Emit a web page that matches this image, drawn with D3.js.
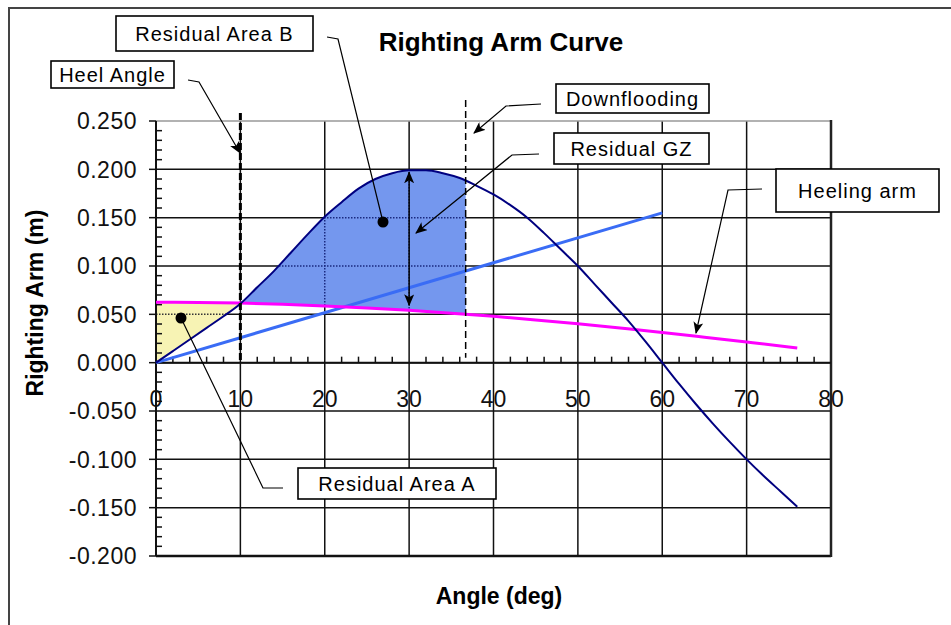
<!DOCTYPE html>
<html><head><meta charset="utf-8">
<script src="https://cdn.jsdelivr.net/npm/d3@7"></script>
<style>
html,body{margin:0;padding:0;background:#fff;}
svg{display:block;font-family:Arial,"Liberation Sans",sans-serif;}
</style></head><body>
<svg id="c" width="951" height="625"></svg>
<script>
// ---- data ----
const gzAngles = [0,2,4,6,8,10,12,14,16,18,20,22,24,26,28,30,32,34,36,38,40,42,44,46,48,50,52,54,56,58,60,62,64,66,68,70,72,74,76];
const gzValues = [0,0.012,0.024,0.036,0.048,0.061,0.078,0.095,0.114,0.133,0.151,0.166,0.180,0.190,0.196,0.199,0.199,0.196,0.191,0.183,0.174,0.163,0.150,0.134,0.117,0.100,0.081,0.062,0.043,0.022,0.000,-0.022,-0.043,-0.063,-0.082,-0.100,-0.117,-0.133,-0.149];
const heelingAngles = [0,5,10,15,20,25,30,35,40,45,50,55,60,65,70,75,76];
const heelingArm = [0.0625,0.0623,0.0616,0.0604,0.0587,0.0566,0.0541,0.0512,0.0479,0.0442,0.0402,0.0358,0.0313,0.0264,0.0214,0.0162,0.0151];
const gmAngles = [0,60];
const gmValues = [0,0.155];
const heelAngle = 10;
const downfloodingAngle = 36.7;
const xTicks = [0,10,20,30,40,50,60,70,80];
const yTicks = [-0.2,-0.15,-0.1,-0.05,0,0.05,0.1,0.15,0.2,0.25];
const title = "Righting Arm Curve";
const xTitle = "Angle (deg)";
const yTitle = "Righting Arm (m)";

// ---- setup ----
const svg = d3.select("#c");
const x = d3.scaleLinear().domain([0,80]).range([156,831]);
const y = d3.scaleLinear().domain([-0.2,0.25]).range([556,121]);
const gz = gzAngles.map((a,i)=>({a, v:gzValues[i]}));
const heel = heelingAngles.map((a,i)=>({a, v:heelingArm[i]}));
const gm = gmAngles.map((a,i)=>({a, v:gmValues[i]}));
const interp = (arr, a) => {
  for (let i=0;i<arr.length-1;i++){
    if (a>=arr[i].a && a<=arr[i+1].a){
      const t=(a-arr[i].a)/(arr[i+1].a-arr[i].a);
      return arr[i].v+t*(arr[i+1].v-arr[i].v);
    }
  }
  return arr[arr.length-1].v;
};
const slice = (arr,a0,a1)=>{
  const pts=[{a:a0,v:interp(arr,a0)}];
  arr.forEach(d=>{ if(d.a>a0 && d.a<a1) pts.push(d); });
  pts.push({a:a1,v:interp(arr,a1)});
  return pts;
};
const line = d3.line().x(d=>x(d.a)).y(d=>y(d.v));
const smooth = d3.line().x(d=>x(d.a)).y(d=>y(d.v)).curve(d3.curveMonotoneX);

const defs = svg.append("defs");
function marker(id){
  defs.append("marker").attr("id",id).attr("viewBox","0 0 12 10")
    .attr("refX",11).attr("refY",5).attr("markerWidth",12).attr("markerHeight",10)
    .attr("markerUnits","userSpaceOnUse").attr("orient","auto-start-reverse")
    .append("path").attr("d","M0,0 L12,5 L0,10 L3,5 Z").attr("fill","#000");
}
marker("arr");

// outer frame
svg.append("rect").attr("x",9).attr("y",8).attr("width",1000).attr("height",700)
  .attr("fill","none").attr("stroke","#444").attr("stroke-width",2);

// areas
const areaA = slice(heel,0,heelAngle).concat(slice(gz,0,heelAngle).reverse());
const areaB = slice(gz,heelAngle,downfloodingAngle).concat(slice(heel,heelAngle,downfloodingAngle).reverse());
const poly = pts => "M" + pts.map(d=>x(d.a)+","+y(d.v)).join("L") + "Z";
defs.append("clipPath").attr("id","clipA").append("path").attr("d",poly(areaA));
defs.append("clipPath").attr("id","clipB").append("path").attr("d",poly(areaB));

// gridlines
const grid = svg.append("g");
xTicks.filter(t=>t>0 && t<80).forEach(t=>{
  grid.append("line").attr("x1",x(t)).attr("x2",x(t)).attr("y1",y(0.25)).attr("y2",y(-0.2))
    .attr("stroke","#111").attr("stroke-width",1.5);
});
yTicks.filter(t=>t<0.25).forEach(t=>{
  grid.append("line").attr("x1",x(0)).attr("x2",x(80)).attr("y1",y(t)).attr("y2",y(t))
    .attr("stroke","#111").attr("stroke-width", t===-0.2?2.5:1.5);
});
grid.append("line").attr("x1",x(0)).attr("x2",x(80)).attr("y1",y(0.25)).attr("y2",y(0.25))
  .attr("stroke","#999").attr("stroke-width",1.5);
grid.append("line").attr("x1",x(80)).attr("x2",x(80)).attr("y1",y(0.25)-1).attr("y2",y(-0.2)+1)
  .attr("stroke","#222").attr("stroke-width",2.5);

// area fills
svg.append("path").attr("d",poly(areaA)).attr("fill","#f7f3b4");
svg.append("path").attr("d",poly(areaB)).attr("fill","#7497ee");
// dotted grid within areas
[["clipA","#333"],["clipB","#1a2a80"]].forEach(([cid,col])=>{
  const g = svg.append("g").attr("clip-path",`url(#${cid})`);
  xTicks.forEach(t=>{
    g.append("line").attr("x1",x(t)).attr("x2",x(t)).attr("y1",y(0.25)).attr("y2",y(-0.2))
      .attr("stroke",col).attr("stroke-width",1.5).attr("stroke-dasharray","1.5,1.5");
  });
  yTicks.forEach(t=>{
    g.append("line").attr("x1",x(0)).attr("x2",x(80)).attr("y1",y(t)).attr("y2",y(t))
      .attr("stroke",col).attr("stroke-width",1.5).attr("stroke-dasharray","1.5,1.5");
  });
});

// axes
const ax = svg.append("g").attr("stroke","#111").attr("stroke-width",1.5);
ax.append("line").attr("x1",x(0)).attr("x2",x(0)).attr("y1",y(0.25)).attr("y2",y(-0.2)).attr("stroke-width",2);
yTicks.forEach(t=>{
  ax.append("line").attr("x1",x(0)-7).attr("x2",x(0)).attr("y1",y(t)).attr("y2",y(t));
});
d3.range(-20,26).forEach(i=>{
  if (i%5!==0) ax.append("line").attr("x1",x(0)).attr("x2",x(0)+6).attr("y1",y(i/100)).attr("y2",y(i/100));
});
ax.append("line").attr("x1",x(0)).attr("x2",x(80)).attr("y1",y(0)).attr("y2",y(0)).attr("stroke-width",2);
d3.range(2,80,2).forEach(a=>{
  if (a%10!==0) ax.append("line").attr("x1",x(a)).attr("x2",x(a)).attr("y1",y(0)).attr("y2",y(0)-6);
});

// series lines
svg.append("path").attr("d",line(gm)).attr("fill","none").attr("stroke","#3a6cf5").attr("stroke-width",3);
svg.append("path").attr("d",smooth(heel)).attr("fill","none").attr("stroke","#ff00ff").attr("stroke-width",3);
svg.append("path").attr("d",smooth(gz)).attr("fill","none").attr("stroke","#000080").attr("stroke-width",2);

// vertical reference lines
svg.append("line").attr("x1",x(heelAngle)).attr("x2",x(heelAngle)).attr("y1",113).attr("y2",y(0))
  .attr("stroke","#000").attr("stroke-width",3).attr("stroke-dasharray","7,3");
svg.append("line").attr("x1",x(downfloodingAngle)).attr("x2",x(downfloodingAngle)).attr("y1",100).attr("y2",y(0)-5)
  .attr("stroke","#000").attr("stroke-width",1.5).attr("stroke-dasharray","7,4");

// residual GZ double arrow at 30 deg
svg.append("line").attr("x1",x(30)).attr("x2",x(30))
  .attr("y1",y(interp(gz,30))+2).attr("y2",y(interp(heel,30))-5)
  .attr("stroke","#000").attr("stroke-width",1.5)
  .attr("marker-start","url(#arr)").attr("marker-end","url(#arr)");

// annotations
const notes = [
  {text:"Residual Area B", box:[116,16,197,35], path:[[327,37],[338,39],[383,222]], end:"dot"},
  {text:"Heel Angle", box:[51,61,123,27], path:[[188,80],[199,82],[240,153]], end:"arrow"},
  {text:"Downflooding", box:[556,84,153,29], path:[[541,104],[506,106],[474,133]], end:"arrow"},
  {text:"Residual GZ", box:[554,133,155,31], path:[[539,154],[512,155],[416,233]], end:"arrow"},
  {text:"Heeling arm", box:[776,169,163,43], path:[[762,189],[728,190],[696,333]], end:"arrow"},
  {text:"Residual Area A", box:[298,468,198,31], path:[[283,488],[263,488],[181,318]], end:"dot"}
];
notes.forEach(n=>{
  const p = svg.append("path").attr("d","M"+n.path.map(q=>q.join(",")).join("L"))
    .attr("fill","none").attr("stroke","#000").attr("stroke-width",1.2);
  const last = n.path[n.path.length-1];
  if (n.end==="arrow") p.attr("marker-end","url(#arr)");
  else svg.append("circle").attr("cx",last[0]).attr("cy",last[1]).attr("r",5.5).attr("fill","#000");
  const [bx,by,bw,bh] = n.box;
  svg.append("rect").attr("x",bx).attr("y",by).attr("width",bw).attr("height",bh)
    .attr("fill","#fff").attr("stroke","#000").attr("stroke-width",1.6);
  svg.append("text").attr("x",bx+bw/2).attr("y",by+bh/2).attr("dy","0.36em")
    .attr("text-anchor","middle").attr("font-size",20).attr("letter-spacing",1).text(n.text);
});

// tick labels
const fmt = v => { const s = Math.abs(v).toFixed(3); return (v < -1e-9 ? "-" : "") + s; };
svg.append("g").selectAll("text").data(yTicks).join("text")
  .attr("x",137).attr("y",d=>y(d)).attr("dy","0.36em").attr("text-anchor","end")
  .attr("font-size",23).attr("letter-spacing",0.5).attr("fill","#111")
  .text(d=>fmt(d));
svg.append("g").selectAll("text").data(xTicks).join("text")
  .attr("x",d=>x(d)).attr("y",399).attr("dy","0.36em").attr("text-anchor","middle")
  .attr("font-size",23).attr("fill","#111").text(d=>d);

// titles
svg.append("text").attr("x",501).attr("y",51).attr("text-anchor","middle")
  .attr("font-size",26).attr("font-weight","bold").text(title);
svg.append("text").attr("x",499).attr("y",604).attr("text-anchor","middle")
  .attr("font-size",23).attr("font-weight","bold").text(xTitle);
svg.append("text").attr("transform","translate(43,303) rotate(-90)").attr("text-anchor","middle")
  .attr("font-size",23).attr("font-weight","bold").text(yTitle);
</script>
</body></html>
